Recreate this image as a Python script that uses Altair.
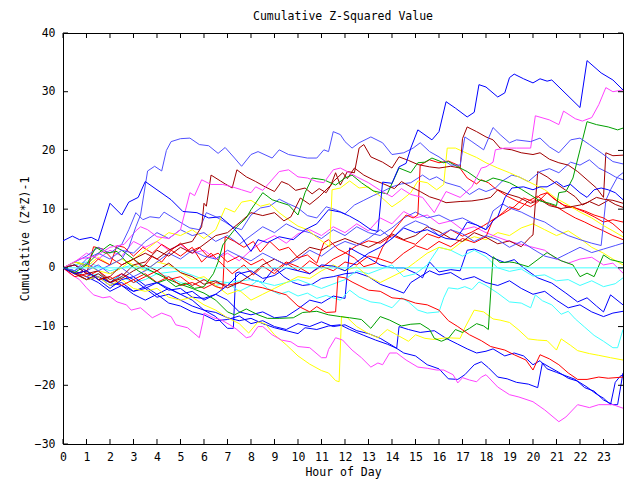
import altair as alt
import pandas as pd

FONT = "DejaVu Sans Mono"

# colours seen in the reference
BLUE = "#0000ff"
LBLUE = "#5050ff"
DRED = "#a00000"
RED = "#ff0000"
GREEN = "#00a000"
MAG = "#ff40ff"
YEL = "#ffff00"
CYAN = "#40ffff"

# ---- series values: (hour, cumulative value) ----
B1 = [(0,4.6),(0.4,5.4),(0.7,4.8),(1.2,5.2),(1.5,4.6),(2.0,11.0),(2.5,9.0),(2.8,11.2),(3.2,12.0),(3.5,14.7),(4.0,13.3),(4.6,11.6),(5.1,9.6),(5.7,9.4),(6.2,8.5),(6.7,8.7),(7.2,7.0),(7.6,5.2),(8.0,2.8),(8.3,4.8),(8.7,4.3),(9.2,5.3),(9.8,4.8),(10.3,6.5),(10.8,7.5),(11.3,9.9),(11.8,9.5),(12.2,8.8),(12.6,7.9),(13.1,6.5),(13.4,6.2),(13.6,14.6),(14.0,14.4),(14.3,17.2),(14.6,17.8),(14.8,20.4),(15.1,23.5),(15.7,21.8),(16.0,23.2),(16.3,28.3),(16.7,27.2),(17.2,25.7),(17.5,26.5),(17.7,31.2),(18.0,30.8),(18.5,29.1),(18.8,29.8),(19.0,32.4),(19.2,33.0),(19.6,32.2),(20.0,31.5),(20.3,32.2),(20.6,31.8),(20.8,32.0),(22.0,27.3),(22.3,35.3),(22.9,33.2),(23.4,32.0),(23.83,30.3)]
B2 = [(0,0),(0.5,-1),(1,-0.5),(1.5,-2),(2,-3.5),(2.5,-2),(3,-1.5),(3.5,-3),(4,-2.5),(4.5,-3.5),(5,-4.5),(5.5,-4),(6,-5.5),(6.5,-4.5),(7,-3),(7.5,-1),(8,-0.5),(8.5,-1.8),(9,-1.3),(9.5,0),(10,-0.5),(10.5,-1),(11,0.5),(11.5,0.3),(12,-0.5),(12.5,1),(13,2.5),(13.5,3.5),(14,5),(14.5,6.8),(15,6),(15.5,6.5),(16,5.5),(16.3,5),(16.7,4.8),(17,6.5),(17.2,7.8),(17.6,7.3),(18,6.5),(18.3,8),(18.5,8.7),(18.8,11.9),(19.1,13.6),(19.6,13.8),(20.0,13.3),(20.3,13.8),(20.6,13.8),(21.0,14.7),(21.3,13.8),(21.6,14.2),(22.0,12.8),(22.3,12.0),(22.6,13.3),(22.9,13.6),(23.2,13.3),(23.5,12.8),(23.83,11.6)]
B3 = [(0,0),(0.5,0.5),(1,-1),(1.5,-1.5),(2,-2.5),(2.5,-1),(3,-2),(3.5,-3.5),(4,-2.5),(4.5,-3.8),(5,-3.5),(5.5,-5),(6,-5.2),(6.5,-4.5),(7,-5.5),(7.5,-7.5),(8,-8),(8.5,-7.5),(9,-8.5),(9.5,-8.3),(10,-7),(10.5,-5.5),(11,-6),(11.5,-4.8),(12.0,-5.2),(12.2,3.4),(12.6,2.5),(13.0,1.7),(13.5,0.5),(14,0),(14.5,0),(15,-0.9),(15.3,-1.7),(15.6,1),(16,-0.7),(16.5,-0.3),(16.9,-0.5),(17.2,3),(17.5,3.2),(18.0,2.5),(18.3,1.7),(18.8,0.9),(19.2,1.4),(19.6,0),(20.2,-1.7),(20.8,-2.6),(21.4,-4.3),(21.9,-5.8),(22.3,-5.1),(22.7,-6.5),(23.0,-7.5),(23.3,-4.6),(23.83,-6.3)]
B4 = [(0,0),(0.5,-0.8),(1,-2),(1.5,-1.5),(2,-2.5),(2.5,-3),(3,-4),(3.5,-3.2),(4,-4.5),(4.5,-3.5),(5,-4.5),(5.5,-5.5),(6,-7.2),(6.5,-8.3),(7.0,-10.3),(7.25,-10.3),(7.35,-0.9),(7.5,-0.7),(8,-2),(8.5,-2.5),(9.0,0),(9.4,-1.5),(9.8,-2.5),(10.2,-3),(10.6,-2.8),(11.0,-1.8),(11.5,-1.5),(12.0,-1),(12.5,-0.8),(13,-1.5),(13.5,-2.8),(14,-3.5),(14.5,-4.3),(14.8,-2.5),(15.2,-1.5),(15.6,-0.5),(16,-1.2),(16.5,-0.8),(17,-2),(17.5,-1.5),(18,-2.5),(18.5,-3),(19,-2.2),(19.5,-3.5),(20,-4.5),(20.5,-4),(21,-5.5),(21.5,-6.8),(22,-6.3),(22.5,-7.5),(23,-8.3),(23.4,-7.7),(23.83,-7.4)]
BL1 = [(0,0),(0.5,-1),(1,-2),(1.5,-1.5),(2,-3),(2.5,-2.5),(3,-4),(3.5,-3.5),(4,-5),(4.5,-4.5),(5,-5.5),(5.5,-6.5),(6,-7.2),(6.5,-7.6),(7,-8.5),(7.5,-9),(8,-8.6),(8.5,-9.5),(9,-10.2),(9.5,-10.7),(10,-11.2),(10.3,-10.2),(10.8,-10.5),(11.3,-9.9),(11.8,-9.7),(12.2,-10.5),(12.8,-11.5),(13.3,-12.3),(13.8,-13),(14.2,-13.7),(14.3,-10),(14.7,-10.5),(15.2,-11),(15.8,-10.7),(16.3,-12),(16.8,-13),(17.2,-13.8),(17.6,-14.5),(18.0,-14.2),(18.3,-13.8),(18.8,-15),(19.2,-14.5),(19.6,-15),(20.0,-16.5),(20.3,-15.8),(20.6,-17.2),(21.0,-17.8),(21.4,-18.4),(21.8,-19),(22.2,-20.4),(22.6,-21),(23.0,-22.5),(23.4,-23.3),(23.6,-23.3),(23.83,-17.9)]
BL2 = [(0,0),(0.5,-0.5),(1,-1.5),(1.5,-2.5),(2,-4),(2.5,-3),(3,-4.5),(3.5,-5.5),(4,-4.5),(4.5,-6),(5,-6.5),(5.5,-7.5),(6,-8),(6.5,-9),(7,-8.8),(7.5,-8.2),(8,-9.5),(8.5,-9),(9,-10),(9.5,-10.5),(10,-9.5),(10.5,-10),(11,-9.2),(11.5,-10),(12,-9.7),(12.5,-10.7),(13,-11.2),(13.5,-12),(14,-13.2),(14.5,-14.5),(15,-15),(15.5,-16.5),(16,-17.2),(16.4,-18.9),(16.8,-19),(17.1,-18.2),(17.5,-16.5),(17.8,-16.0),(18.1,-17),(18.5,-18.6),(18.9,-18.9),(19.3,-19.5),(19.8,-19.8),(20.2,-20.4),(20.4,-16.2),(20.7,-16.9),(21.1,-17.8),(21.5,-18.8),(21.9,-19.3),(22.3,-20.3),(22.7,-21.5),(23.0,-22.2),(23.3,-23.3),(23.5,-19.5),(23.7,-18.5),(23.83,-18.2)]
LB1 = [(0,0),(0.5,-0.5),(1,0.8),(1.5,-0.5),(2,0.5),(2.5,1.5),(2.8,3.5),(3.1,7),(3.3,9),(3.6,16.5),(3.9,17.3),(4.2,16.5),(4.4,20),(4.6,21.5),(5.0,22),(5.4,22.1),(5.8,21),(6.2,20.8),(6.6,19.5),(6.9,20.5),(7.3,18.7),(7.6,17.3),(8.0,19.3),(8.3,19.8),(8.9,18.7),(9.2,20.1),(9.6,19.3),(10.4,18.7),(10.8,18.7),(11.1,20.1),(11.3,19.8),(11.5,23.2),(11.8,22.7),(12.0,21.5),(12.3,20.4),(12.6,21.3),(13.1,22.3),(13.6,21.3),(14.0,19.3),(14.5,19.6),(14.9,20.4),(15.2,21.3),(15.6,19.8),(16.0,18.9),(16.5,17.5),(16.9,17.5),(17.1,22.3),(17.4,21.5),(17.9,20.1),(18.3,23.9),(18.6,22.7),(19.0,21.3),(19.3,21.8),(19.9,21.5),(20.3,22.1),(20.7,20.6),(21.1,19.6),(21.6,21.8),(22.0,22.1),(22.4,21),(22.9,19.6),(23.4,18.1),(23.83,17.7)]
LB2 = [(0,0),(0.5,1),(1,2),(1.5,3.5),(2,2.5),(2.5,4),(2.8,6.5),(3.1,9.4),(3.4,8.2),(3.7,8.7),(4.1,8.5),(4.3,9.5),(4.7,8.5),(5.1,7.5),(5.4,6.8),(5.8,6.5),(6.1,9.4),(6.5,8.7),(6.9,7.8),(7.2,7),(7.6,6.5),(8.0,9),(8.4,10.2),(8.8,10.5),(9.2,11.7),(9.6,10.9),(10.0,10.2),(10.4,8.9),(10.8,8.5),(11.2,10.4),(11.6,9.9),(12.0,9.2),(12.4,10.7),(12.8,11.5),(13.2,12.3),(13.6,13),(14.0,13.8),(14.4,14.3),(14.8,14.5),(15.3,15.8),(15.6,15),(15.9,15.5),(16.3,14.5),(16.9,13.8),(17.3,12.5),(17.7,13.5),(18.0,13),(18.4,13.6),(18.7,14.8),(19.1,15.8),(19.4,15.5),(19.8,14.7),(20.3,16.4),(20.7,16.9),(21.1,16.2),(21.6,18),(22.0,17.5),(22.4,18.4),(22.8,17),(23.2,16.2),(23.5,15.5),(23.83,15.0)]
LB3 = [(0,0),(0.5,-0.5),(1,1.5),(1.5,2.5),(2,1.5),(2.5,3),(3,2.5),(3.5,4.5),(4,6),(4.5,5),(5,6.5),(5.5,5.5),(6,6),(6.5,4.5),(7,5.5),(7.5,4),(8,5.5),(8.5,7),(9,6),(9.5,7.5),(10,6.5),(10.5,6),(11,5),(11.5,6.5),(12,5.5),(12.5,7),(13,6),(13.5,5.5),(14,6.8),(14.5,8.5),(15,9.5),(15.5,8.5),(16,9),(16.5,8),(17,8.5),(17.5,7.5),(18,6.5),(18.3,9.7),(18.7,10.9),(19,10.2),(19.5,9.5),(20,8.5),(20.5,7.8),(21,6.5),(21.5,5.5),(22,4.8),(22.5,4.2),(22.9,3.8),(23.1,11.5),(23.3,13.3),(23.6,15.5),(23.83,16.2)]
LB4 = [(0,0),(0.5,0.5),(1,-0.5),(1.5,0.5),(2,-1),(2.5,0),(3,-1.5),(3.5,-0.5),(4,1),(4.5,2.5),(5,1.5),(5.5,3),(6,2),(6.5,1.5),(7,3),(7.5,2),(8,1.2),(8.5,2.5),(9,1.5),(9.5,0.5),(10,1.5),(10.5,3),(11,2),(11.5,3.5),(12,4.5),(12.5,3.8),(13,5),(13.5,6.5),(14,5),(14.5,7),(15,8),(15.5,7.2),(16,5.5),(16.5,6.5),(17,5.8),(17.5,4.5),(18,5.5),(18.5,4.8),(19,3.5),(19.5,4.5),(20,3.2),(20.5,2),(21,1.5),(21.5,2.5),(22,3.5),(22.5,2.6),(23,3.2),(23.5,3.8),(23.83,4.2)]
DR1 = [(0,0),(0.5,-1),(1,-0.5),(1.5,-2),(2,-1.5),(2.5,0.5),(3,1.5),(3.5,2.5),(4,1.5),(4.5,3),(5,4),(5.5,4.5),(5.9,7),(6.0,11),(6.1,10.5),(6.3,15.8),(6.7,14.8),(6.9,14.3),(7.2,13.6),(7.4,16.7),(7.8,15.5),(8.2,14.7),(8.6,13.8),(9.0,13.0),(9.3,14.7),(9.6,14.2),(9.9,13.2),(10.3,13.6),(10.6,12.6),(10.9,13.5),(11.2,12.8),(11.5,14.7),(11.9,16.2),(12.1,15.2),(12.4,17.0),(12.8,15.8),(13.2,15.0),(13.7,14.2),(14.1,13.5),(14.4,14.7),(14.8,13.8),(15.2,13.0),(15.6,12.1),(16.0,11.6),(16.3,11.1),(16.9,11.3),(17.4,11.4),(17.9,11.7),(18.2,12.0),(18.5,13.3),(18.9,12.6),(19.4,12),(19.9,11.0),(20.3,11.6),(20.7,10.6),(21.2,10.1),(21.6,10.4),(22.0,10.7),(22.3,11.1),(22.7,12),(23.0,11.7),(23.4,11.5),(23.83,11.0)]
DR2 = [(0,0),(0.5,0.5),(1,-1),(1.5,-0.5),(2,-2.5),(2.5,-1.5),(3,0.5),(3.5,1),(4,3),(4.5,2),(5,3.5),(5.5,2.5),(6,4),(6.5,5.5),(7,6),(7.6,8),(8.0,9.4),(8.5,8.9),(9.0,9.4),(9.4,8),(9.7,8.7),(10.1,11.9),(10.5,10.8),(10.9,12.1),(11.4,14.1),(11.6,16.2),(11.8,14.1),(12.1,16.4),(12.4,16.2),(12.6,20.4),(12.8,21.0),(13.1,18.9),(13.6,18.0),(14.0,17),(14.3,18.9),(14.7,18.3),(15.1,17.6),(15.6,17.2),(16.0,17.0),(16.5,17.3),(16.9,17.0),(17.0,22),(17.2,24),(17.6,23.2),(18.0,22.3),(18.3,21.8),(18.6,20.4),(19.1,20.1),(19.5,19.6),(20.0,19.3),(20.3,19.6),(20.7,18.5),(21.1,17.9),(21.5,17.5),(21.9,16.4),(22.3,15),(22.7,13.6),(23.0,12.0),(23.1,19.6),(23.4,19.1),(23.83,19.2)]
DR3 = [(0,0),(0.5,-1),(1,-2),(1.5,-1),(2,-2.5),(2.5,-1.8),(3,-0.5),(3.5,0.5),(4,-0.5),(4.5,0.8),(5,-0.8),(5.5,-1.5),(6,-2.8),(6.5,-2.2),(7,-3.4),(7.5,-2.5),(8,-1.2),(8.5,0.5),(9,1.5),(9.5,0.5),(10,2.0),(10.5,3.5),(11,3.0),(11.5,4.2),(12,5.0),(12.5,4.2),(13,3.5),(13.5,4.5),(14,5.8),(14.5,4.8),(15,5.5),(15.5,7),(16,6.2),(16.5,5),(17,4.5),(17.5,6.0),(18,5.2),(18.5,4.1),(19,4.6),(19.5,3.6),(19.9,5.3),(20.0,5.6),(20.2,16.4),(20.6,15.5),(21.0,14.3),(21.4,13.2),(21.8,12.1),(22.1,10.7),(22.4,11.3),(22.8,10.6),(23.2,11.5),(23.5,10.8),(23.83,10.3)]
R1 = [(0,0),(0.5,-1),(1,-0.5),(1.5,-2),(2,-1.5),(2.5,-3),(3,-2),(3.5,-1),(4,-2.5),(4.5,-1.5),(5,-3),(5.5,-2.5),(6,-3.5),(6.5,-2.5),(7,-3),(7.5,-2.5),(8,-3),(8.5,-3.4),(9,-4),(9.5,-4.6),(10,-6.5),(10.5,-7.5),(10.8,-6.6),(11.2,-7.6),(11.6,-7.5),(11.7,-1.5),(12,-1.7),(12.3,-2.4),(12.6,-3),(13,-3.8),(13.5,-4),(14,-5.1),(14.5,-5.3),(15.0,-6),(15.5,-6.3),(16,-7.2),(16.4,-9),(16.8,-10),(17.3,-11.4),(17.8,-12.4),(18.2,-13.4),(18.8,-14),(19.2,-14.8),(19.7,-15.7),(20.0,-17.4),(20.3,-14.8),(20.7,-15.5),(21.1,-16.5),(21.5,-17.9),(21.9,-19),(22.3,-19),(22.8,-18.6),(23.2,-18.8),(23.83,-18.6)]
R2 = [(0,0),(0.5,-0.8),(1,-1.5),(1.5,-0.5),(2,-2),(2.5,-1),(3,-2.5),(3.5,-1.5),(4,-0.5),(4.5,-2),(5,-1.5),(5.5,-3),(6,-2),(6.5,-3.2),(6.8,-3.5),(6.9,5.3),(7.3,4.5),(7.7,3.5),(8.1,4.5),(8.4,2.7),(8.8,4.5),(9.2,3.0),(9.6,3.5),(10.0,1.7),(10.4,2.2),(10.8,0.8),(11.1,4.3),(11.3,4.8),(11.7,3.2),(12.0,2.6),(12.4,1.7),(12.8,0.2),(13.3,0.8),(13.6,3.5),(14.0,6.0),(14.3,7.5),(14.6,9.0),(14.9,8.5),(15.1,9.0),(15.2,17.5),(15.6,18.4),(16.0,17.9),(16.4,18.2),(16.8,17.5),(17.2,15.3),(17.6,14.3),(17.8,15),(18.1,14.5),(18.4,13.5),(18.9,12.2),(19.4,11.2),(19.9,10.4),(20.2,11.2),(20.6,12.8),(20.9,11.7),(21.3,10.7),(21.8,10.2),(22.2,9.7),(22.6,9.0),(23.0,8.5),(23.4,7.5),(23.83,6.0)]
R3 = [(0,0),(0.5,-1.5),(1,-1),(1.3,3.6),(1.7,3.2),(2.1,1.5),(2.5,0.5),(3.0,1.5),(3.4,0),(3.8,2),(4.2,1),(4.6,3),(5.0,2),(5.5,3.5),(5.9,1),(6.3,2.5),(6.8,0.5),(7.2,-1),(7.7,0.5),(8.1,-1.2),(8.5,0.3),(9.0,-1),(9.5,0.8),(10.0,-0.5),(10.5,1.2),(11.0,0),(11.5,1.5),(12.0,2.5),(12.5,3.8),(13.0,4.6),(13.5,4.2),(14.0,5.5),(14.5,4.7),(15.0,4.0),(15.5,5.8),(16.0,5.1),(16.5,6.5),(17.0,5.4),(17.4,6.1),(17.9,7.2),(18.3,8.2),(18.8,9.4),(19.2,10.4),(19.6,11.9),(20.0,11.3),(20.3,12.4),(20.6,12.8),(21.0,11.5),(21.4,10.4),(21.8,10.2),(22.2,9.5),(22.6,8.7),(23.0,7.8),(23.4,8.2),(23.83,7.8)]
R4 = [(0,0),(0.5,0.5),(1,-0.5),(1.5,1.5),(2,0.5),(2.3,3.8),(2.6,3.5),(3,2),(3.4,3.5),(3.8,2.5),(4.2,4),(4.6,3),(5,4.2),(5.4,2.8),(5.8,3.5),(6.2,1.8),(6.6,2.5),(7,1.0),(7.5,2),(8,0.5),(8.5,1.5),(9,-0.5),(9.5,1),(10,0.2),(10.5,-1),(11,0.3),(11.5,-0.5),(12,1.0),(12.5,0.5),(13,2.0),(13.5,1.5),(14,0.8),(14.5,2.5),(15,3.8),(15.5,3.1),(16,4.5),(16.5,3.6),(17,5.0),(17.5,4.3),(18.0,5.3),(18.3,8.2),(18.6,9.0),(19.0,10.4),(19.4,9.9),(19.8,11.4),(20.2,12.2),(20.6,11.0),(21.0,10.4),(21.4,9.4),(21.8,8.5),(22.2,7.8),(22.6,7.0),(23.0,6.3),(23.4,5.5),(23.83,4.8)]
G1 = [(0,0),(0.5,-0.8),(1,0.5),(1.4,3.5),(1.8,2.5),(2.3,2.8),(2.7,1),(3.2,-0.5),(3.6,-1.5),(4,-2.6),(4.4,-2),(4.8,-3.2),(5.2,-2.6),(5.6,-3.5),(6,-3.2),(6.4,-1),(6.6,1.0),(6.8,3.9),(7.0,5),(7.4,7),(7.8,8.5),(8.0,9.9),(8.5,12.8),(8.9,11.6),(9.2,11.2),(9.6,10.7),(10.0,9.0),(10.3,12.8),(10.6,15.3),(11.1,15),(11.6,14.1),(12.0,15.3),(12.3,15.8),(12.7,14.5),(13.2,13.1),(13.8,12.6),(14.3,17),(14.8,16.2),(15.1,17.9),(15.4,18),(15.7,18.7),(16.2,17.9),(16.4,18.1),(16.8,17.2),(17.2,16.4),(17.7,15.0),(18.0,14.7),(18.3,15.3),(18.6,15),(19.0,14.5),(19.5,13.4),(19.9,12.4),(20.3,11.4),(20.7,11),(21.0,10.6),(21.1,12.8),(21.4,13),(21.7,15.3),(22.0,20.1),(22.3,24.9),(22.7,24.4),(23.2,24),(23.6,23.5),(23.83,23.8)]
G2 = [(0,0),(0.5,1),(1,0.5),(1.5,2.5),(2,4),(2.5,3),(3,1.5),(3.5,0),(4,-1),(4.5,-2),(5,-2.8),(5.5,-3.5),(6,-4.3),(6.5,-5.5),(7,-7.5),(7.3,-8),(7.8,-7),(8.3,-8),(8.7,-8.6),(9.2,-8.6),(9.8,-8.5),(10.2,-7.6),(10.8,-7.4),(11.3,-8),(11.8,-8.3),(12.2,-8.5),(12.7,-8.8),(13.1,-10.3),(13.5,-8.3),(13.9,-8.9),(14.4,-9.9),(14.8,-9.6),(15.2,-9.5),(15.6,-10.5),(15.8,-12),(16.1,-12.5),(16.4,-12),(16.7,-10.5),(17.0,-11),(17.3,-10.3),(17.6,-9.5),(17.9,-9.9),(18.1,-10.5),(18.3,1.9),(18.6,0.9),(19.0,1),(19.2,0.9),(19.8,0.2),(20.3,1.7),(20.6,2.6),(21.2,1.2),(21.7,0.5),(22.0,-1.5),(22.3,-0.9),(22.6,-1.5),(23.0,2.2),(23.3,1.4),(23.83,0.9)]
M1 = [(0,0),(0.7,1.5),(1.4,2),(2.0,3.5),(2.6,4),(3.1,6.3),(3.3,7),(3.6,6.5),(4.0,5.3),(4.5,5),(5.0,6.5),(5.4,12.8),(5.6,12.3),(5.9,15),(6.3,14.2),(6.8,14.2),(7.2,13.8),(7.6,13.3),(8.0,12.8),(8.2,13.8),(8.5,13.2),(9.2,16.4),(9.6,16.7),(10.0,15.5),(10.4,15.3),(10.8,14.7),(11.1,14.5),(11.5,16.7),(11.8,17),(12.1,16.4),(12.5,15.5),(13.0,14.5),(13.5,13.2),(14.0,12.1),(14.4,13.5),(14.8,12.5),(15.3,12.0),(15.8,9.4),(16.3,13),(16.9,12),(17.4,13.8),(17.8,17),(18.0,17.2),(18.3,18),(18.4,20.1),(18.8,20.4),(19.3,20.4),(19.9,20.4),(20.1,25.9),(20.7,25.2),(21.1,24.4),(21.3,26.7),(21.8,25.4),(22.1,25.0),(22.5,25.6),(22.8,27.8),(23.1,30.7),(23.4,30.0),(23.83,30.3)]
M2 = [(0,0),(0.5,1),(1,2.5),(1.5,1.5),(2,3),(2.5,2),(3,4.5),(3.5,3.5),(4,4.5),(4.5,3),(5,4),(5.5,2.5),(6,3),(6.5,1.5),(7,2.5),(7.5,1.2),(8,3),(8.5,4.5),(9,5.5),(9.5,4.2),(10,5.8),(10.5,6.5),(11,5.5),(11.5,7),(12,6),(12.5,7.5),(13,6.3),(13.5,8.5),(14,7.5),(14.5,9.6),(15,8.5),(15.5,9),(16,7.5),(16.5,8),(17,6.5),(17.5,7),(18,6),(18.5,5.2),(19,4.5),(19.5,4),(20,3.5),(20.5,3),(21,1.5),(21.5,0.8),(22,1.5),(22.5,1.8),(23,0.5),(23.4,0.8),(23.83,-0.9)]
M3 = [(0,0),(0.3,-1),(0.7,-2),(1.0,-3.4),(1.3,-4.6),(1.7,-5.1),(2.0,-4.9),(2.3,-5.8),(2.7,-6.3),(2.9,-7.2),(3.3,-6.8),(3.8,-8.5),(4.2,-7.7),(4.6,-8.3),(4.8,-9.7),(5.3,-10.2),(5.8,-11.9),(5.95,-9.2),(6.0,-7.7),(6.4,-8.5),(6.7,-8.8),(7.1,-9.7),(7.4,-10.5),(7.8,-11.9),(8.0,-11.7),(8.3,-10),(8.5,-10),(8.9,-11.4),(9.3,-12.3),(9.7,-12.6),(10.0,-13.4),(10.5,-13.6),(11.0,-15.3),(11.2,-15.3),(11.3,-13.9),(11.6,-11.9),(11.9,-12.3),(12.3,-14),(12.7,-15.3),(13.1,-16.9),(13.4,-16.2),(13.6,-16.5),(13.9,-14.5),(14.2,-14.5),(14.6,-15.7),(15.1,-16.9),(15.5,-17.1),(15.9,-17.4),(16.2,-17.4),(16.6,-18.2),(16.8,-19.6),(17.0,-18.7),(17.3,-19.1),(17.6,-19.4),(17.8,-18.6),(18.0,-18.2),(18.5,-20.3),(19.0,-21.6),(19.4,-22),(20.0,-22.8),(20.5,-24.2),(21.1,-26.2),(21.4,-25.4),(21.9,-23.3),(22.4,-23.8),(22.8,-23.3),(23.4,-23.3),(23.83,-23.9)]
Y1 = [(0,0),(0.5,1),(1,0.5),(1.5,-0.5),(2,-1),(2.5,0),(3,1.5),(3.5,3),(4,4.5),(4.5,6),(5,5.5),(5.5,6.5),(6,5),(6.5,6.5),(6.9,10.2),(7.3,9.5),(7.6,11.2),(8.0,11.5),(8.4,10.5),(8.8,10.9),(9.2,9.4),(9.6,8.2),(10.0,7.1),(10.4,6.5),(10.8,5.2),(11.2,4.0),(11.35,3.6),(11.45,13.3),(11.8,13.6),(12.2,14.8),(12.6,13.6),(13.0,13.8),(13.5,12.2),(14.0,10.4),(14.4,11.5),(14.8,12.8),(15.1,14.8),(15.5,14.5),(15.9,13.3),(16.2,14.2),(16.35,20.4),(16.7,20.4),(17.2,19.5),(17.6,18.8),(18.0,17.9),(18.5,17),(19.0,16.2),(19.5,15.3),(20.0,14.3),(20.5,13.3),(21.0,11.8),(21.5,10.7),(22.0,9.5),(22.5,8.5),(23.0,7.2),(23.4,6.3),(23.83,5.3)]
Y2 = [(0,0),(0.5,-1),(1,-2),(1.5,-1.5),(2,-3),(2.5,-2),(3,-3.5),(3.5,-4),(4,-3.5),(4.5,-5),(5,-5.5),(5.5,-5),(6,-6.3),(6.5,-7.2),(7,-8.5),(7.5,-9.5),(7.9,-11.1),(8.3,-9.2),(8.6,-9.5),(9.0,-11.4),(9.5,-13.1),(10.0,-15),(10.5,-16.4),(11.0,-17.5),(11.3,-17.9),(11.6,-19.2),(11.75,-19.4),(11.85,-8.3),(12.1,-8.5),(12.5,-10),(13.0,-11.2),(13.4,-11.9),(13.8,-10.5),(14.2,-11.4),(14.7,-12.5),(15.0,-11.4),(15.4,-12),(15.8,-12.2),(16.3,-11.9),(16.9,-12),(17.1,-10.2),(17.5,-7.2),(17.9,-7.5),(18.3,-8.7),(18.6,-8.9),(19.0,-9.3),(19.4,-10.6),(19.8,-12.1),(20.2,-12.3),(20.6,-12.4),(21.0,-14),(21.2,-12.1),(21.6,-13.2),(21.9,-14.1),(22.4,-14.6),(22.8,-14.9),(23.3,-15.3),(23.83,-15.7)]
Y3 = [(0,0),(0.5,1),(1,0.2),(1.5,1.8),(2,0.5),(2.5,1.5),(3,0.5),(3.5,-0.5),(4,1),(4.5,0.5),(5,-0.8),(5.5,-2),(6,-1.5),(6.5,-3),(7,-4.5),(7.5,-3.8),(8,-5.5),(8.5,-4.5),(9,-3.5),(9.5,-2.5),(10,-1.5),(10.5,-1.8),(11,-0.5),(11.5,0.5),(12,-0.5),(12.5,0.2),(13,-1.5),(13.5,-2.5),(14,-1.5),(14.5,-0.5),(15,1.0),(15.5,2.5),(16,3.5),(16.5,3),(17,4.5),(17.5,5.3),(18,4.8),(18.5,6),(19,5.5),(19.5,6.8),(20,7.5),(20.5,6.5),(21,5.5),(21.5,6.3),(22,5.0),(22.5,3.5),(23,2.5),(23.4,1.5),(23.83,0.5)]
C1 = [(0,0),(0.5,-0.5),(1,-1.5),(1.5,-1),(2,-2),(2.5,-1.5),(3,-2.5),(3.5,-2),(4,-1),(4.5,-1.5),(5,-2.5),(5.5,-3),(6,-2),(6.5,-3),(7,-2.5),(7.5,-4),(8,-3),(8.3,-2.1),(8.7,-3.5),(9.2,-4.5),(9.6,-4),(10,-4.8),(10.4,-4.3),(10.8,-5.2),(11.2,-4.7),(11.8,-5.5),(12.2,-3.8),(12.6,-5),(13.1,-5.8),(13.5,-6),(14.0,-6.8),(14.4,-5.1),(14.7,-5.8),(15.1,-7.2),(15.5,-7.7),(16.0,-7.5),(16.2,-5.1),(16.4,-3.4),(16.8,-3.6),(17.1,-3.2),(17.4,-3.7),(17.7,-2.4),(18.0,-3),(18.5,-4.3),(19.0,-5.8),(19.5,-6),(19.9,-6.8),(20.1,-4.6),(20.4,-5.6),(20.8,-6.3),(21.2,-7.9),(21.5,-7.4),(21.8,-8.7),(22.2,-10.1),(22.6,-11.5),(23.0,-12.5),(23.4,-13.6),(23.6,-13.6),(23.83,-10.5)]
C2 = [(0,0),(1,1),(2,-0.5),(3,0.5),(4,-1),(5,-0.5),(6,-2),(7,-2.5),(8,-2),(9,-3),(10,-2),(11,-3.5),(12,-2),(12.5,-0.5),(13,-1),(14,0.5),(14.5,-1.5),(15,-1),(15.5,0.5),(16,3.5),(16.5,3),(17,2),(17.5,3),(18,1.9),(18.5,0),(19,-0.6),(19.5,-0.2),(20,-1.4),(20.5,-1.2),(21,-2.2),(21.5,-2),(22,-3),(22.5,-2.2),(23,-3.2),(23.5,-2.7),(23.83,-1.7)]
C0 = [(0,0),(23.83,0)]

SERIES = [
    ("B4", BLUE, B4), ("BL1", BLUE, BL1), ("BL2", BLUE, BL2), ("B3", BLUE, B3),
    ("C1", CYAN, C1), ("C2", CYAN, C2), ("Y3", YEL, Y3), ("Y2", YEL, Y2),
    ("M3", MAG, M3), ("M2", MAG, M2), ("G2", GREEN, G2), ("R1", RED, R1),
    ("R4", RED, R4), ("R3", RED, R3), ("DR3", DRED, DR3), ("LB4", LBLUE, LB4),
    ("LB3", LBLUE, LB3), ("LB2", LBLUE, LB2), ("R2", RED, R2), ("Y1", YEL, Y1),
    ("DR1", DRED, DR1), ("DR2", DRED, DR2), ("G1", GREEN, G1), ("M1", MAG, M1),
    ("LB1", LBLUE, LB1), ("B2", BLUE, B2), ("B1", BLUE, B1), ("C0", CYAN, C0),
]

X_TICKS = list(range(0, 24))
Y_TICKS = [-30, -20, -10, 0, 10, 20, 30, 40]

rows = []
for k, (name, col, pts) in enumerate(SERIES):
    for j, (h, v) in enumerate(pts):
        rows.append({"series": name, "hour": h, "value": v, "idx": j})
df = pd.DataFrame(rows)
xt = pd.DataFrame({"hour": X_TICKS})
yt = pd.DataFrame({"value": Y_TICKS})

names = [s[0] for s in SERIES]
cols = [s[1] for s in SERIES]

W, H = 560, 411
xscale = alt.Scale(domain=[0, 23.83], nice=False, zero=False)
yscale = alt.Scale(domain=[-30, 40], nice=False, zero=False)

common_axis = dict(grid=False, domain=False, ticks=False, labelFont=FONT, labelFontSize=11.5,
                   labelColor="black", titleFont=FONT, titleFontSize=11.5,
                   titleFontWeight="normal", titleColor="black")

x_bottom = alt.Axis(orient="bottom", values=X_TICKS, format="d", labelPadding=7,
                    title="Hour of Day", titleX=280, titleY=31, titleBaseline="alphabetic",
                    labelFlush=False, **common_axis)
y_left = alt.Axis(orient="left", values=Y_TICKS, format="d", labelPadding=8,
                  title="Cumulative (Z*Z)-1", titleX=-35, titleY=205.5, titleAngle=270,
                  titleBaseline="alphabetic", titleAlign="center", **common_axis)

lines = alt.Chart(df).mark_line(strokeWidth=1, clip=True).encode(
    x=alt.X("hour:Q", scale=xscale, axis=x_bottom),
    y=alt.Y("value:Q", scale=yscale, axis=y_left),
    color=alt.Color("series:N", scale=alt.Scale(domain=names, range=cols), legend=None),
    detail="series:N",
    order="idx:Q",
)

# inward tick marks on all four sides (gnuplot style)
tick_x_bottom = alt.Chart(xt).mark_rule(color="black", strokeWidth=1).encode(
    x=alt.X("hour:Q", scale=xscale, axis=None), y=alt.value(H - 5), y2=alt.value(H))
tick_x_top = alt.Chart(xt).mark_rule(color="black", strokeWidth=1).encode(
    x=alt.X("hour:Q", scale=xscale, axis=None), y=alt.value(0), y2=alt.value(5))
tick_y_left = alt.Chart(yt).mark_rule(color="black", strokeWidth=1).encode(
    y=alt.Y("value:Q", scale=yscale, axis=None), x=alt.value(0), x2=alt.value(5))
tick_y_right = alt.Chart(yt).mark_rule(color="black", strokeWidth=1).encode(
    y=alt.Y("value:Q", scale=yscale, axis=None), x=alt.value(W - 5), x2=alt.value(W))

chart = alt.layer(lines, tick_x_bottom, tick_x_top, tick_y_left, tick_y_right).resolve_axis(
    x="independent", y="independent"
).properties(
    width=W, height=H,
    autosize=alt.AutoSizeParams(type="none"),
    padding={"left": 63, "top": 33, "right": 17, "bottom": 36},
    title=alt.TitleParams("Cumulative Z-Squared Value", font=FONT, fontSize=11.5,
                          fontWeight="normal", color="black", anchor="middle", offset=5),
    background="white",
).configure_view(stroke="black", strokeWidth=1)

chart.save("out.html", embed_options={"renderer": "svg", "actions": False})
